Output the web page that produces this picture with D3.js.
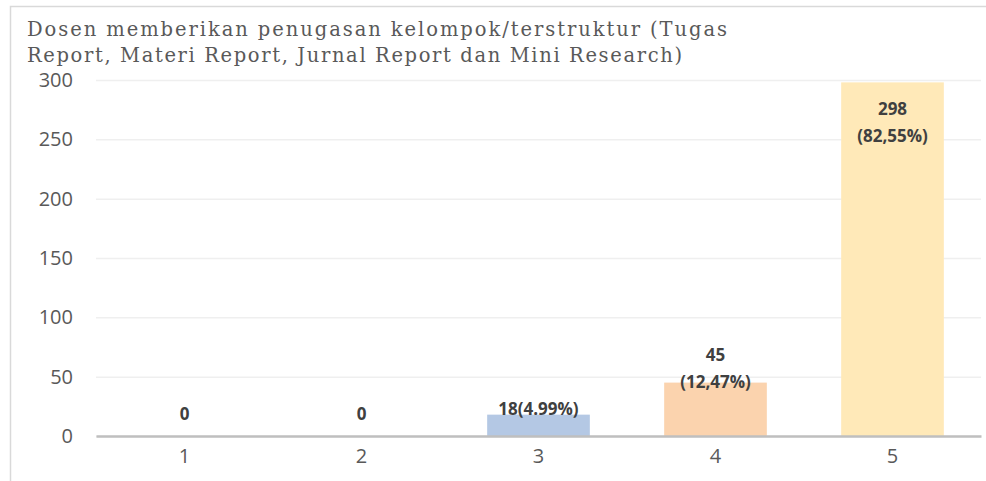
<!DOCTYPE html>
<html lang="id">
<head>
<meta charset="utf-8">
<title>Penugasan kelompok</title>
<script src="https://cdn.jsdelivr.net/npm/d3@7"></script>
<style>
	body { margin: 0; background: #fff; }
	text { font-family: "Open Sans", "Noto Sans", sans-serif; }
</style>
</head>
<body>
<div id="chart"></div>
<script>
	// data
	var categories = ["1", "2", "3", "4", "5"];
	var counts = [0, 0, 18, 45, 298];
	var labelLines = [["0"], ["0"], ["18(4.99%)"], ["45", "(12,47%)"], ["298", "(82,55%)"]];
	var yTicks = [0, 50, 100, 150, 200, 250, 300];
	var titleLines = ["Dosen memberikan penugasan kelompok/terstruktur (Tugas",
		"Report, Materi Report, Jurnal Report dan Mini Research)"];
	var barColors = ["#c5e0b4", "#c9c9c9", "#b4c8e4", "#fbd3ae", "#ffe9b8"];

	var W = 986, H = 481;
	var margin = {top: 80, right: 5, bottom: 45, left: 96};

	var svg = d3.select("#chart").append("svg")
		.attr("width", W)
		.attr("height", H);

	// chart frame
	svg.append("rect")
		.attr("x", 10.5).attr("y", 6.5)
		.attr("width", W).attr("height", H)
		.attr("fill", "none")
		.attr("stroke", "#d9d9d9")
		.attr("stroke-width", 1.5);

	var x = d3.scaleBand()
		.domain(categories)
		.range([margin.left, W - margin.right])
		.paddingInner(0.42)
		.paddingOuter(0.21);
	var y = d3.scaleLinear()
		.domain([0, 300])
		.range([436, margin.top]);

	// title
	svg.append("g").selectAll("text")
		.data(titleLines)
		.enter().append("text")
		.attr("x", 27)
		.attr("y", function(d, i) { return 36 + i * 26; })
		.attr("textLength", function(d, i) { return i == 0 ? 700 : 655; })
		.attr("lengthAdjust", "spacing")
		.style("font-family", "'DejaVu Serif', serif")
		.style("font-size", "19.5px")
		.attr("fill", "#595959")
		.text(function(d) { return d; });

	// gridlines + y labels
	var yAxis = d3.axisLeft(y)
		.tickValues(yTicks)
		.tickSize(-(W - margin.right - margin.left))
		.tickPadding(23);
	var gy = svg.append("g")
		.attr("transform", "translate(" + margin.left + ",0)")
		.call(yAxis);
	gy.select(".domain").remove();
	gy.selectAll(".tick line").attr("stroke", "#efefef").attr("stroke-width", 1.5);
	gy.selectAll(".tick text")
		.attr("fill", "#595959")
		.style("font-size", "20px");

	// bars
	svg.append("g").selectAll("rect")
		.data(counts)
		.enter().append("rect")
		.attr("x", function(d, i) { return x(categories[i]); })
		.attr("y", function(d) { return y(d); })
		.attr("width", x.bandwidth())
		.attr("height", function(d) { return y(0) - y(d); })
		.attr("fill", function(d, i) { return barColors[i]; });

	// x axis
	var xAxis = d3.axisBottom(x).tickSize(0).tickPadding(13);
	var gx = svg.append("g")
		.attr("transform", "translate(0," + y(0) + ")")
		.call(xAxis);
	gx.select(".domain").attr("stroke", "#bfbfbf").attr("stroke-width", 2.5);
	gx.selectAll(".tick text")
		.attr("fill", "#595959")
		.style("font-size", "20px");

	// data labels (baseline of last line relative to bar top)
	var lastLineOffset = [-16, -16, 0, 5, 60];
	var lbl = svg.append("g").selectAll("g")
		.data(labelLines)
		.enter().append("g");
	lbl.selectAll("text")
		.data(function(d, i) {
			return d.map(function(t, j) { return {t: t, i: i, j: j, n: d.length}; });
		})
		.enter().append("text")
		.attr("x", function(d) { return x(categories[d.i]) + x.bandwidth() / 2; })
		.attr("y", function(d) {
			return y(counts[d.i]) + lastLineOffset[d.i] - (d.n - 1 - d.j) * 27;
		})
		.attr("text-anchor", "middle")
		.attr("fill", "#404040")
		.style("font-size", "17px")
		.style("font-weight", "bold")
		.text(function(d) { return d.t; });
</script>
</body>
</html>
